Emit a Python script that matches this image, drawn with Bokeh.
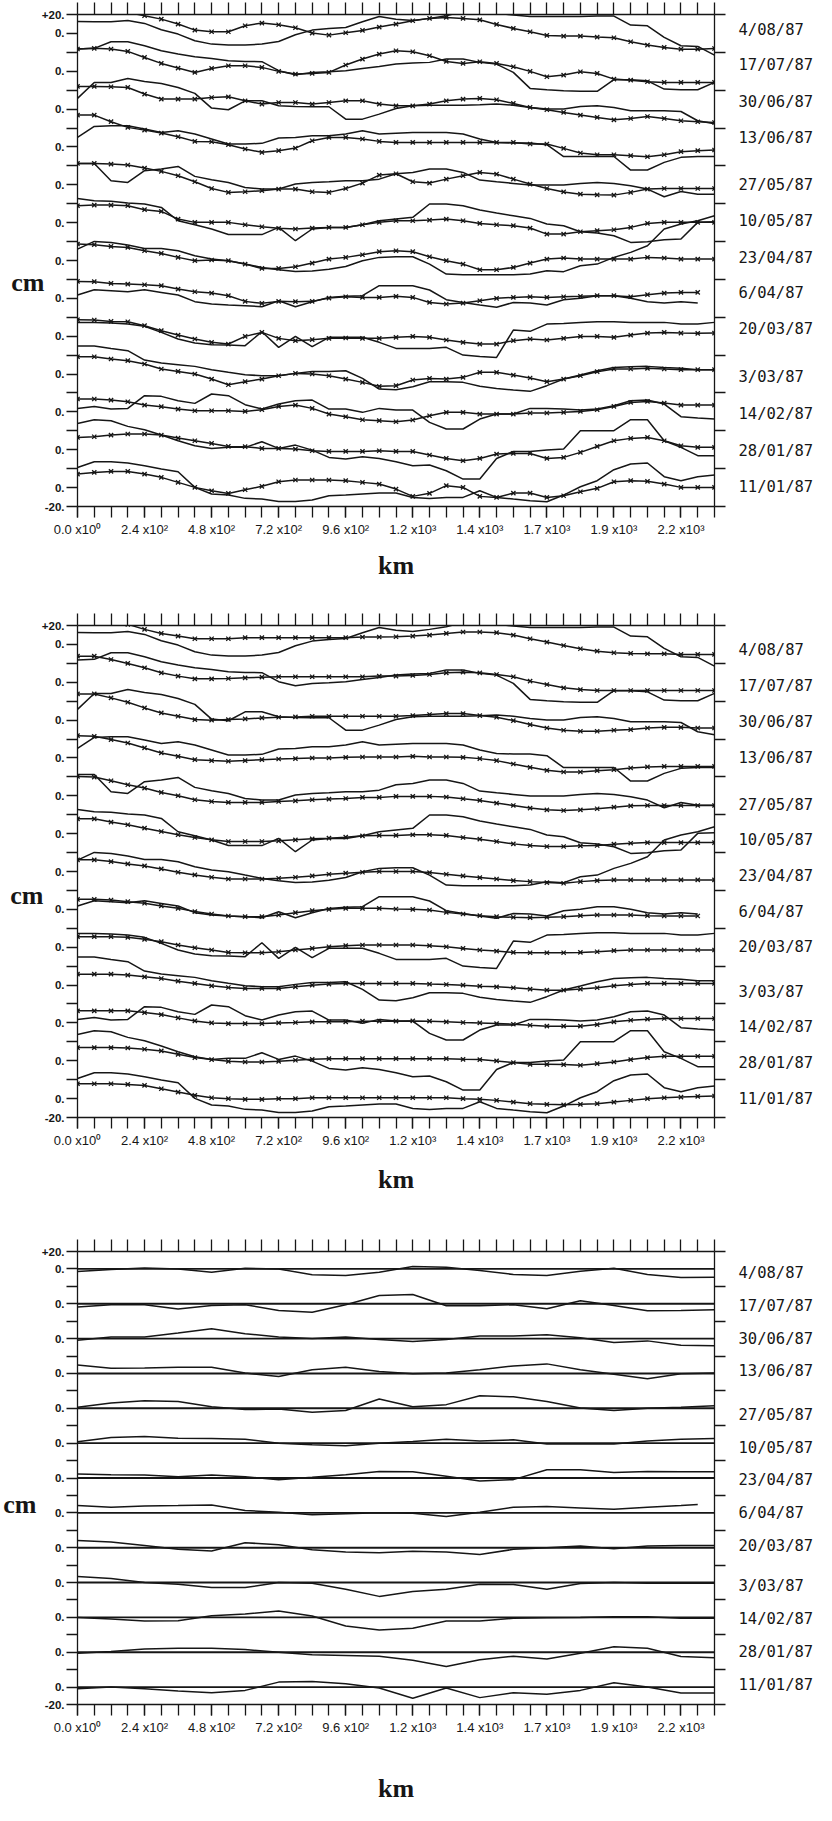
from bokeh.plotting import figure
from bokeh.models import Range1d, LinearAxis, FixedTicker, ColumnDataSource
from bokeh.layouts import column
from bokeh.embed import file_html
from bokeh.resources import INLINE

# ---------------- data ----------------
DATES = ["4/08/87", "17/07/87", "30/06/87", "13/06/87", "27/05/87", "10/05/87",
         "23/04/87", "6/04/87", "20/03/87", "3/03/87", "14/02/87", "28/01/87", "11/01/87"]

X_KM = list(range(0, 2281, 60))          # along-track distance, km (60 km sampling)
X_RES = list(range(0, 2281, 120))        # residual curves, 120 km sampling
X_RES_SHORT = list(range(0, 2161, 120)) + [2220]

X_TICK_LABELS = {0: "0.0 x10\u2070", 240: "2.4 x10\u00b2", 480: "4.8 x10\u00b2", 720: "7.2 x10\u00b2",
                 960: "9.6 x10\u00b2", 1200: "1.2 x10\u00b3", 1440: "1.4 x10\u00b3", 1680: "1.7 x10\u00b3",
                 1920: "1.9 x10\u00b3", 2160: "2.2 x10\u00b3"}

ROW_STEP_CM = 40

# observed sea-level anomaly (cm), one list per date (solid lines, panels 1 and 2)
obs_0408 = [12.7, 12.3, 12.3, 13.7, 10.6, 3.9, -0.7, -7.8, -11.3, -12.3, -12.3, -11.3, -8.5, -1.4, 3.5, 5.3, 6.3, 12.3, 17.8, 15.0, 13.7, 15.9, 18.7, 23.3, 22.9, 21.5, 19.4, 17.8, 17.8, 17.8, 18.0, 18.3, 18.3, 8.8, 8.1, -4.2, -13.0, -13.7, -22.9]
obs_1707 = [23.5, 24.2, 31.2, 31.2, 27.0, 21.7, 18.2, 15.4, 13.6, 11.1, 10.4, 10.1, 0.6, -3.7, -1.2, -0.5, 0.6, 3.0, 5.1, 7.6, 8.7, 9.4, 12.9, 12.9, 9.4, 7.6, -1.2, -18.1, -19.5, -20.5, -21.2, -21.2, -8.9, -8.9, -10.1, -18.8, -19.5, -19.5, -11.8]
obs_3006 = [11.3, 28.2, 28.2, 32.4, 29.2, 27.1, 22.9, 16.6, 1.1, -0.7, 8.8, 8.8, 3.5, 2.8, 2.5, 2.5, -10.6, -10.6, -5.3, 0.7, 3.5, 4.2, 4.2, 4.2, 4.6, 5.3, 4.2, 1.8, 0.0, 0.0, 2.8, 3.5, 1.8, -1.8, -1.8, -1.8, -2.5, -12.3, -15.5]
obs_1306 = [10.1, 21.7, 22.4, 22.4, 18.9, 15.4, 17.1, 13.6, 8.4, 3.1, 3.1, 3.8, 9.4, 10.1, 11.9, 11.9, 13.6, 17.1, 13.6, 14.5, 15.4, 15.4, 15.4, 13.6, 8.4, 4.8, 4.1, 4.1, 2.4, -10.1, -10.1, -10.1, -10.1, -24.4, -24.4, -16.3, -11.0, -10.1, -10.1]
obs_2705 = [22.6, 22.6, 4.3, 2.5, 14.9, 16.6, 19.4, 8.9, 5.3, 2.5, -2.8, -4.5, -4.5, 0.8, 2.5, 3.2, 4.3, 4.3, 6.0, 11.7, 13.1, 16.6, 16.6, 13.1, 5.0, 3.2, 1.5, -0.3, -0.3, -0.3, 1.5, 2.5, 1.5, -1.0, -4.5, -12.6, -7.0, -9.9, -9.9]
obs_1005 = [25.6, 23.2, 22.5, 20.7, 19.7, 16.1, 2.0, -2.2, -6.7, -12.6, -12.6, -12.6, -5.0, -19.1, -6.7, -5.0, -5.0, -2.2, 2.0, 3.8, 5.6, 19.7, 19.7, 17.9, 13.3, 10.1, 7.3, 4.5, -1.5, -3.2, -9.6, -11.0, -13.8, -20.9, -20.2, -18.0, -17.3, 0.3, 1.0]
obs_2304 = [12.0, 20.2, 19.1, 16.3, 12.8, 12.8, 10.3, 5.0, 1.5, -0.2, -3.8, -7.3, -9.9, -11.7, -11.0, -9.3, -6.4, -0.2, 3.3, 4.0, 4.0, -3.8, -14.3, -15.0, -15.0, -15.0, -15.0, -14.3, -10.8, -11.8, -5.5, -3.8, 3.3, 8.6, 15.6, 33.2, 38.5, 42.0, 47.3]
obs_0604 = [3.5, 9.1, 8.1, 7.0, 9.1, 6.3, 3.5, -3.5, -6.0, -7.0, -7.8, -8.8, -2.5, -8.8, -3.5, 1.0, 2.1, 2.8, 13.4, 13.4, 13.4, 8.8, -1.4, -4.3, -7.0, -9.5, -4.3, -5.0, -7.0, -1.4, 0.0, 2.8, 2.8, 0.0, -3.5, -5.0, -3.5, -5.0]
obs_2003 = [14.6, 14.6, 13.9, 12.8, 10.4, 4.0, -3.0, -7.2, -9.0, -9.4, -10.0, 4.7, -11.8, -0.2, -11.1, -1.2, -1.2, -1.2, -6.5, -12.9, -12.9, -12.9, -11.8, -20.0, -21.4, -22.4, 6.5, 5.1, 12.8, 13.5, 14.6, 15.3, 15.3, 14.6, 14.6, 14.6, 12.8, 12.8, 14.6]
obs_0303 = [29.6, 29.6, 27.1, 24.7, 14.8, 11.6, 9.9, 8.1, 4.6, 1.8, -0.7, -1.8, -1.8, 0.7, 2.8, 2.8, 3.5, -4.6, -15.9, -16.6, -13.4, -8.1, -8.1, -8.8, -13.0, -15.2, -16.9, -18.3, -12.3, -5.3, -1.1, 3.5, 7.0, 7.8, 8.1, 7.0, 6.0, 4.6, 4.6]
obs_1402 = [3.7, 5.8, 3.0, 3.7, 17.1, 16.4, 11.8, 9.0, 18.9, 17.1, 7.6, 3.0, 8.3, 11.8, 12.5, 3.0, 3.0, -0.5, 3.7, 1.9, 1.9, -11.1, -18.1, -18.1, -7.6, -2.3, -2.3, 3.7, 3.7, 3.0, 1.9, 3.0, 6.5, 11.8, 12.5, 8.3, -5.1, -6.5, -7.6]
obs_2801 = [27.8, 31.7, 30.7, 24.7, 21.1, 15.5, 9.5, 4.2, 1.4, 2.5, 2.5, 8.5, 1.4, 4.9, -0.4, -8.1, -9.9, -7.4, -9.2, -12.7, -16.9, -16.2, -22.2, -31.0, -31.0, -9.2, -1.8, -1.8, -0.4, 0.7, 20.1, 20.1, 20.1, 31.7, 31.7, 9.5, 2.5, -6.3, -6.3]
obs_1101 = [21.3, 27.3, 27.3, 25.9, 23.1, 19.6, 16.8, 0.2, -6.8, -7.9, -11.4, -12.1, -14.6, -14.6, -13.2, -8.6, -7.9, -6.8, -5.8, -5.8, -10.4, -11.5, -10.4, -10.4, -3.4, -10.4, -12.2, -13.9, -15.0, -7.9, 0.9, 7.3, 18.9, 24.9, 26.0, 11.5, 7.3, 11.5, 13.2]

# model curves of the first panel (lines with x markers)
mod1_0408 = [25.0, 24.7, 23.3, 22.2, 18.7, 15.1, 9.9, 3.5, 1.8, 1.8, 8.1, 10.9, 9.2, 6.0, 0.4, -1.8, 0.7, 3.2, 6.7, 9.9, 13.4, 15.9, 16.9, 15.9, 14.4, 9.5, 5.3, 1.8, -2.1, -2.8, -2.8, -3.9, -4.6, -8.8, -12.3, -14.8, -16.6, -16.6, -15.9]
mod1_1707 = [23.5, 24.2, 23.5, 21.0, 14.6, 8.3, 3.4, -1.2, 3.0, 5.8, 5.8, 4.1, -0.1, -3.0, -2.3, -1.2, 6.6, 12.9, 18.2, 21.7, 20.6, 16.4, 10.4, 8.3, 10.1, 8.3, 4.8, -0.1, -5.8, -4.0, -0.5, -2.3, -8.3, -9.4, -11.1, -11.8, -11.8, -11.8, -11.8]
mod1_3006 = [24.0, 24.0, 23.6, 22.9, 15.9, 10.6, 10.6, 10.6, 12.3, 13.0, 8.8, 5.3, 7.0, 7.0, 5.3, 7.0, 8.8, 8.8, 5.3, 3.5, 3.5, 5.3, 8.8, 10.6, 11.3, 9.9, 6.0, 1.8, -0.7, -3.5, -6.3, -8.8, -11.3, -9.9, -7.8, -9.9, -12.3, -13.4, -14.1]
mod1_1306 = [33.7, 33.7, 26.7, 20.7, 17.8, 14.7, 10.8, 5.9, 5.5, 2.4, -2.2, -5.7, -3.9, -1.2, 6.6, 10.1, 10.1, 8.4, 5.9, 4.8, 4.8, 4.8, 4.8, 4.8, 4.8, 4.8, 4.8, 3.1, 3.1, -1.5, -6.4, -8.2, -8.2, -9.2, -10.3, -8.2, -5.0, -3.9, -3.2]
mod1_2705 = [22.6, 22.6, 21.9, 20.9, 17.7, 14.2, 9.6, 3.2, -3.9, -8.0, -7.3, -6.2, -4.5, -4.5, -7.3, -8.0, -3.9, 1.8, 10.3, 11.7, 3.2, 1.8, 6.0, 9.6, 13.1, 11.3, 6.0, 0.8, -3.9, -7.5, -9.9, -10.6, -10.9, -8.0, -4.5, -3.9, -3.9, -3.9, -3.9]
mod1_1005 = [17.9, 18.6, 18.6, 17.9, 13.7, 11.9, 3.8, 0.3, 0.3, 0.3, -2.2, -4.3, -6.0, -6.7, -5.7, -5.0, -5.0, -2.2, 0.3, 2.0, 2.0, 2.7, 3.8, 2.0, -0.8, -2.2, -3.2, -5.7, -12.1, -12.1, -9.6, -8.5, -7.5, -5.0, -0.8, 0.3, 0.3, 0.3, 0.3]
mod1_2304 = [17.4, 16.7, 14.9, 13.8, 10.3, 7.5, 3.3, -0.2, 0.5, -0.2, -3.8, -8.4, -8.4, -6.6, -2.7, 1.5, 3.3, 6.1, 9.3, 10.3, 9.3, 4.0, -0.2, -3.8, -9.8, -9.8, -7.3, -2.7, 1.5, 2.6, 1.5, 1.5, 1.5, 1.5, 3.3, 2.6, 1.5, 1.5, 1.5]
mod1_0604 = [17.9, 17.6, 15.8, 15.1, 14.4, 13.4, 9.8, 7.0, 5.6, 2.8, -3.2, -5.3, -3.2, -3.5, -3.2, 0.3, 1.7, 1.0, 1.0, 2.1, 1.0, -4.3, -6.0, -5.0, -2.5, 0.0, 1.0, 1.7, 1.0, 1.7, 2.1, 2.8, 2.8, 1.7, 3.9, 5.6, 6.3, 6.3]
mod1_2003 = [17.4, 17.1, 15.6, 15.3, 11.1, 5.8, 1.2, -3.0, -6.5, -8.3, -0.2, 4.0, -2.3, -4.7, -3.7, -2.3, -1.9, -2.3, -2.3, -1.2, -0.2, -1.2, -4.0, -6.5, -8.3, -8.3, -4.7, -3.0, -4.0, -2.3, -0.2, -0.2, -1.2, 1.2, 3.3, 4.0, 3.3, 3.0, 3.3]
mod1_0303 = [18.3, 18.3, 15.9, 14.1, 10.6, 5.3, 2.8, 0.0, -5.3, -11.3, -8.1, -5.3, -1.8, 0.7, 0.0, -1.8, -5.3, -8.8, -13.0, -12.3, -6.3, -4.6, -5.3, -3.5, 1.8, 1.8, -1.1, -4.2, -8.1, -5.3, -1.8, 2.5, 5.3, 5.3, 6.0, 5.3, 4.6, 4.6, 4.6]
mod1_1402 = [13.6, 13.6, 12.5, 10.7, 7.2, 5.5, 3.0, 1.2, 1.2, 1.2, 0.5, 2.3, 5.8, 7.2, 3.7, -2.3, -5.1, -8.3, -9.3, -10.4, -8.6, -4.1, -0.5, -0.5, -2.3, -2.3, -2.3, -1.2, -1.2, -0.5, 0.5, 2.3, 5.8, 10.0, 11.1, 9.3, 7.2, 7.2, 7.2]
mod1_2801 = [13.0, 13.7, 15.5, 16.6, 16.6, 15.5, 12.3, 9.5, 6.7, 3.5, 3.2, 1.4, 1.4, 0.7, -1.1, -1.8, -1.8, -1.8, -1.1, -1.8, -1.8, -5.6, -9.2, -11.6, -9.2, -4.6, -3.9, -3.9, -9.2, -8.1, -2.8, 3.5, 9.5, 12.0, 13.0, 9.5, 4.2, 2.5, 2.5]
mod1_1101 = [14.3, 16.0, 17.1, 17.1, 14.3, 10.8, 5.5, 0.2, -3.4, -6.2, -2.3, 1.3, 6.2, 8.0, 8.0, 8.0, 7.3, 5.5, 3.7, -1.6, -9.3, -6.1, 2.0, 0.2, -9.3, -10.4, -5.8, -5.8, -10.4, -8.6, -4.4, -0.8, 6.2, 7.3, 6.6, 3.7, 0.2, 0.2, 0.2]

# model curves of the second panel (lines with x markers)
mod2_0408 = [27.5, 27.5, 24.7, 21.2, 15.9, 11.6, 8.8, 6.0, 6.0, 6.0, 7.1, 7.1, 7.1, 7.1, 7.1, 7.1, 7.1, 7.8, 7.8, 8.1, 8.8, 9.9, 11.6, 13.1, 13.1, 12.4, 9.9, 6.0, 2.5, -1.1, -4.6, -7.1, -8.8, -9.5, -9.9, -9.9, -10.6, -10.6, -10.6]
mod2_1707 = [27.6, 27.6, 24.1, 19.9, 15.3, 10.0, 6.5, 3.6, 3.6, 4.0, 4.7, 5.4, 5.8, 5.8, 5.8, 5.8, 5.8, 5.8, 6.5, 6.5, 7.2, 8.2, 10.0, 10.7, 10.0, 8.2, 5.8, 1.2, -2.4, -5.9, -7.7, -8.7, -8.7, -8.7, -8.7, -8.7, -8.7, -8.7, -8.7]
mod2_3006 = [27.7, 27.7, 23.5, 18.9, 12.9, 7.6, 4.1, 0.6, -0.1, 0.6, 1.3, 2.3, 3.0, 3.4, 4.1, 4.1, 4.1, 4.1, 4.1, 4.1, 4.8, 5.9, 6.9, 6.9, 4.8, 3.0, -0.5, -4.7, -8.3, -10.7, -11.8, -11.8, -10.7, -10.0, -8.3, -7.6, -7.6, -8.3, -8.3]
mod2_1306 = [23.6, 22.9, 19.4, 15.8, 10.6, 5.3, 1.7, -1.8, -2.8, -3.5, -2.8, -1.8, -1.1, -0.7, 0.0, 0.0, 0.7, 1.0, 1.0, 1.0, 1.7, 1.0, 1.0, 0.7, -0.7, -2.8, -6.4, -9.9, -13.1, -14.8, -14.8, -13.4, -12.4, -10.6, -9.5, -8.9, -8.9, -8.9, -8.9]
mod2_2705 = [20.5, 19.8, 15.9, 11.7, 8.2, 3.6, 0.1, -4.2, -6.0, -7.0, -7.0, -7.0, -6.0, -5.3, -4.2, -3.5, -2.8, -1.7, -1.7, -0.6, -0.6, -0.6, -1.3, -3.1, -4.9, -7.7, -10.2, -13.0, -14.8, -15.5, -14.8, -13.7, -12.0, -10.6, -10.2, -10.2, -10.2, -10.2, -10.2]
mod2_1005 = [15.7, 15.7, 12.2, 9.4, 5.8, 2.3, -1.2, -4.1, -6.5, -8.3, -8.3, -8.3, -7.6, -6.5, -5.5, -4.8, -3.7, -2.3, -1.9, -1.9, -1.2, -1.2, -1.9, -4.1, -5.8, -8.3, -10.8, -12.5, -13.6, -13.6, -12.9, -12.5, -11.1, -10.1, -9.4, -9.4, -9.4, -9.4, -9.4]
mod2_2304 = [12.3, 12.3, 10.5, 8.0, 5.9, 2.7, -0.8, -3.6, -6.1, -7.9, -7.9, -7.9, -7.1, -6.1, -4.7, -2.9, -1.8, -0.8, 0.0, 0.0, 0.0, -1.1, -2.9, -4.7, -6.4, -7.9, -9.6, -10.7, -11.7, -12.4, -10.7, -9.6, -8.9, -8.9, -8.9, -8.9, -8.9, -8.9, -8.9]
mod2_0604 = [10.6, 10.6, 9.9, 8.1, 6.4, 3.6, 1.1, -2.4, -4.9, -7.0, -7.7, -7.7, -6.0, -3.5, -1.4, 0.0, 1.1, 1.1, 1.1, 0.4, 0.0, -0.7, -3.2, -4.9, -6.7, -7.7, -8.4, -8.8, -8.4, -7.7, -6.7, -6.0, -6.0, -6.0, -6.7, -7.0, -7.0, -7.0]
mod2_2003 = [11.1, 11.1, 11.1, 10.4, 8.3, 5.8, 2.3, -0.6, -3.0, -5.5, -5.9, -5.9, -4.8, -3.0, -1.3, 0.5, 1.6, 2.3, 2.3, 2.3, 2.3, 1.6, 0.5, -1.3, -3.0, -4.1, -5.5, -5.9, -5.9, -5.9, -5.5, -4.8, -3.7, -3.0, -3.0, -3.0, -3.0, -3.0, -3.0]
mod2_0303 = [11.5, 11.5, 11.5, 10.5, 8.7, 6.9, 4.1, 1.7, -0.8, -2.6, -3.6, -3.6, -3.6, -1.9, -0.1, 1.0, 1.7, 1.7, 1.7, 1.7, 1.7, 1.0, 0.6, -0.1, -1.2, -1.9, -2.9, -4.3, -5.4, -5.4, -4.3, -2.9, -0.8, 0.6, 1.7, 1.7, 1.7, 1.7, 1.7]
mod2_1402 = [12.7, 12.7, 12.7, 12.7, 10.9, 8.8, 5.3, 2.1, 0.0, -0.7, -0.7, -0.7, 0.0, 0.4, 1.1, 1.1, 1.1, 1.8, 1.8, 1.8, 2.1, 1.8, 1.1, 0.4, 0.0, -0.7, -1.4, -2.5, -3.5, -3.5, -3.5, -1.8, 1.1, 2.8, 3.9, 4.6, 4.6, 4.6, 4.6]
mod2_2801 = [13.9, 13.9, 13.9, 13.5, 12.1, 10.4, 6.8, 3.3, 1.2, -0.6, -1.3, -1.3, -0.6, 0.5, 1.5, 2.2, 2.2, 2.2, 2.2, 2.2, 2.2, 2.2, 2.2, 1.5, 1.2, -0.2, -2.0, -3.8, -3.8, -4.1, -4.8, -3.1, -1.3, 1.2, 3.3, 4.7, 4.7, 4.7, 4.7]
mod2_1101 = [15.7, 15.7, 15.7, 15.0, 13.9, 10.4, 6.9, 3.4, 0.9, -0.1, -0.8, -0.8, -0.1, -0.1, 0.9, 0.9, 0.9, 0.9, 0.9, 0.9, 0.9, 0.9, 0.9, -0.1, -0.8, -1.9, -3.7, -5.4, -6.1, -6.6, -6.1, -5.4, -3.7, -1.9, -0.1, 0.9, 1.6, 2.3, 2.7]

# residual curves of the third panel (cm, 120 km sampling)
res_0408 = [-3.0, -0.8, 1.1, 0.0, -3.8, 0.8, 0.0, -6.8, -7.6, -3.8, 2.8, 1.9, -1.9, -6.4, -7.6, -2.6, 0.8, -6.4, -9.8, -9.5]
res_1707 = [-3.8, -1.1, -1.1, -6.0, -1.9, -1.1, -7.6, -9.8, -1.1, 9.5, 10.6, -2.3, -2.3, -1.1, -5.7, 3.4, -1.9, -8.0, -7.6, -6.8]
res_3006 = [-1.9, 1.9, 1.9, 6.4, 11.3, 5.7, 1.9, 0.0, 1.9, -1.1, -3.2, -1.1, 3.0, 3.0, 4.5, 1.1, -4.5, -2.6, -7.6, -8.3]
res_1306 = [9.8, 6.0, 6.4, 7.2, 7.2, 0.4, -3.4, 4.2, 7.2, 2.3, -0.2, 0.4, 4.2, 8.7, 11.0, 4.2, -0.8, -6.0, -0.4, 0.4]
res_2705 = [1.1, 6.0, 8.7, 7.9, 1.9, -1.5, -0.8, -4.5, -2.6, 10.6, 1.9, 4.2, 14.4, 13.2, 7.9, 0.4, -2.6, 0.0, 1.1, 3.0]
res_1005 = [1.5, 6.4, 7.6, 5.7, 5.3, 4.5, 0.0, -1.9, -3.0, 0.0, 1.9, 4.5, 2.6, 3.8, -1.1, -1.1, -1.1, 2.6, 4.5, 5.3]
res_2304 = [4.5, 3.8, 3.4, 1.5, 3.4, 1.5, -1.9, 0.8, 3.8, 7.6, 7.2, 1.9, -3.4, -1.9, 9.5, 9.5, 6.4, 7.6, 7.2, 7.2]
res_0604 = [8.3, 6.4, 7.9, 8.3, 9.1, 2.6, 0.8, -2.3, -1.1, 0.0, -0.6, -4.2, 0.8, 6.4, 7.2, 5.7, 4.2, 6.4, 8.3, 9.5]
res_2003 = [8.3, 6.4, 2.6, -1.9, -3.8, 5.7, 3.4, -2.3, -4.9, -5.7, -4.2, -4.9, -7.9, -1.9, 0.0, 1.9, -1.1, 1.9, 2.6, 2.6]
res_0303 = [6.8, 4.5, 0.0, -1.9, -5.7, -5.7, 0.0, -0.8, -7.6, -15.9, -10.2, -7.6, -1.9, -2.3, -7.6, -1.1, 0.0, -0.8, -0.8, -0.8]
res_1402 = [0.0, -1.9, -4.2, -3.8, 1.9, 3.8, 7.2, 1.5, -9.8, -14.4, -12.5, -4.2, -4.2, -1.1, -0.4, 0.0, 0.8, 0.8, -1.1, -1.1]
res_2801 = [-1.1, 0.8, 3.8, 4.5, 4.5, 3.0, 0.0, -3.0, -3.8, -4.5, -9.1, -16.3, -8.7, -4.5, -7.9, -1.1, 6.4, 4.5, -4.9, -6.4]
res_1101 = [-1.9, 0.0, -1.9, -4.5, -6.4, -3.8, 5.7, 6.4, 3.8, -1.1, -12.8, -1.1, -12.1, -6.4, -8.3, -3.8, 4.9, 0.0, -6.8, -6.8]

OBS = [obs_0408, obs_1707, obs_3006, obs_1306, obs_2705, obs_1005, obs_2304,
       obs_0604, obs_2003, obs_0303, obs_1402, obs_2801, obs_1101]
MOD1 = [mod1_0408, mod1_1707, mod1_3006, mod1_1306, mod1_2705, mod1_1005, mod1_2304,
        mod1_0604, mod1_2003, mod1_0303, mod1_1402, mod1_2801, mod1_1101]
MOD2 = [mod2_0408, mod2_1707, mod2_3006, mod2_1306, mod2_2705, mod2_1005, mod2_2304,
        mod2_0604, mod2_2003, mod2_0303, mod2_1402, mod2_2801, mod2_1101]
RES = [res_0408, res_1707, res_3006, res_1306, res_2705, res_1005, res_2304,
       res_0604, res_2003, res_0303, res_1402, res_2801, res_1101]

# ---------------- layout / style ----------------
N = len(DATES)
OFFSETS = [(N - 1 - i) * ROW_STEP_CM for i in range(N)]
Y_LO, Y_HI = -20, (N - 1) * ROW_STEP_CM + 20
FIG_W = 816
FRAME_W = 642
INK = "#161616"
LW = 1.5

# small vertical nudges (pixels, up) of the pasted date labels
NUDGE = [
    [3.5, 6, 7, 9, 0, 2, 2.6, 5.6, 7.5, -3.4, -2, -1, 0.7],
    [-5.8, -3.8, -1.6, 0, -9, -6.5, -5, -2.2, 0, -6.5, -4.3, -2.5, 0],
    [-3.8, -1.8, 0, 2, -6.3, -4.5, -2.5, 0, 2, -3.4, -1.7, 0, 1.7],
]

left_labels = {}
for t in range(Y_LO, Y_HI + 1, 20):
    left_labels[t] = ""
for o in OFFSETS:
    left_labels[o] = "0."
left_labels[Y_HI] = "+20."
left_labels[Y_LO] = "-20."


def style_axis(ax):
    ax.axis_line_color = INK
    ax.major_tick_line_color = INK
    ax.minor_tick_line_color = INK
    ax.axis_line_width = 1.3
    ax.major_tick_line_width = 1.3
    ax.minor_tick_line_width = 1.3
    ax.major_tick_in = 0
    ax.minor_tick_in = 0


def make_panel(idx, frame_left, top, frame_h, bottom, km_standoff, cm_y_px, cm_standoff):
    height = top + frame_h + bottom
    p = figure(width=FIG_W, height=height, output_backend="svg", toolbar_location=None,
               x_range=Range1d(0, X_KM[-1]), y_range=Range1d(Y_LO, Y_HI),
               x_axis_location=None, y_axis_location=None,
               min_border_left=frame_left - 8, min_border_right=FIG_W - (frame_left - 8) - FRAME_W,
               min_border_top=top, min_border_bottom=bottom)
    p.grid.grid_line_color = None
    p.outline_line_color = None
    p.background_fill_color = "white"
    p.border_fill_color = "white"

    cmpx = (Y_HI - Y_LO) / frame_h

    # left value axis: "+20.", "0." per row, "-20."
    la = LinearAxis(ticker=FixedTicker(ticks=list(range(Y_LO, Y_HI + 1, 20))),
                    major_label_overrides=left_labels)
    style_axis(la)
    la.major_tick_out = 11
    la.major_label_standoff = 2
    la.major_label_text_font = "Liberation Sans"
    la.major_label_text_font_style = "bold"
    la.major_label_text_font_size = "11.5px"
    la.major_label_text_color = INK
    p.add_layout(la, "left")

    # unit label "cm", as the single label of an outer left axis
    cm_tick = round(Y_HI - cm_y_px * cmpx, 2)
    ca = LinearAxis(ticker=FixedTicker(ticks=[cm_tick]), major_label_overrides={cm_tick: "cm"})
    ca.axis_line_color = None
    ca.major_tick_line_color = None
    ca.major_tick_out = 0
    ca.major_tick_in = 0
    ca.major_label_standoff = cm_standoff
    ca.major_label_text_font = "Liberation Serif"
    ca.major_label_text_font_style = "bold"
    ca.major_label_text_font_size = "26px"
    ca.major_label_text_color = INK
    p.add_layout(ca, "left")

    # right axis: row-boundary ticks + date labels
    date_ticks = [round(OFFSETS[i] + NUDGE[idx][i] * cmpx, 2) for i in range(N)]
    ra = LinearAxis(ticker=FixedTicker(ticks=date_ticks,
                                       minor_ticks=list(range(Y_LO, Y_HI + 1, ROW_STEP_CM))),
                    major_label_overrides={t: d for t, d in zip(date_ticks, DATES)})
    style_axis(ra)
    ra.major_tick_out = 0
    ra.major_tick_line_color = None
    ra.minor_tick_out = 11
    ra.major_label_standoff = 13
    ra.major_label_text_font = "DejaVu Sans Mono"
    ra.major_label_text_font_size = "15.5px"
    ra.major_label_text_color = INK
    p.add_layout(ra, "right")

    # top axis: ticks only
    ta = LinearAxis(ticker=FixedTicker(ticks=[], minor_ticks=X_KM))
    style_axis(ta)
    ta.major_tick_out = 0
    ta.minor_tick_out = 12
    ta.major_label_standoff = 0
    p.add_layout(ta, "above")

    # bottom distance axis
    ba = LinearAxis(ticker=FixedTicker(ticks=list(X_TICK_LABELS.keys()), minor_ticks=X_KM),
                    major_label_overrides=X_TICK_LABELS, axis_label="km")
    style_axis(ba)
    ba.major_tick_out = 11
    ba.minor_tick_out = 11
    ba.major_label_standoff = 4
    ba.major_label_text_font = "Liberation Sans"
    ba.major_label_text_font_size = "13px"
    ba.major_label_text_color = INK
    ba.axis_label_text_font = "Liberation Serif"
    ba.axis_label_text_font_style = "bold"
    ba.axis_label_text_font_size = "26px"
    ba.axis_label_text_color = INK
    ba.axis_label_standoff = km_standoff
    p.add_layout(ba, "below")
    return p


def draw_obs_model(p, model):
    for i in range(N):
        off = OFFSETS[i]
        xo = X_KM[:len(OBS[i])]
        p.line(xo, [v + off for v in OBS[i]], line_width=LW, line_color=INK)
        xm = X_KM[:len(model[i])]
        src = ColumnDataSource(dict(x=xm, y=[v + off for v in model[i]]))
        p.line("x", "y", source=src, line_width=LW, line_color=INK)
        p.scatter("x", "y", source=src, marker="x", size=6, line_width=1.3, line_color=INK)


# cm_y_px: vertical position of "cm" measured from the top of the plotting frame
p1 = make_panel(0, 81, 14, 492, 86, 11, 268, -6)
draw_obs_model(p1, MOD1)

p2 = make_panel(1, 80, 33, 492, 90, 14, 270, -5)
draw_obs_model(p2, MOD2)

p3 = make_panel(2, 80, 44, 458, 96, 36, 256, 2)
for i in range(N):
    off = OFFSETS[i]
    xr = X_RES_SHORT if i == 7 else X_RES
    p3.line(xr, [v + off for v in RES[i]], line_width=LW, line_color=INK)
p3.segment(x0=[X_KM[0]] * N, x1=[X_KM[-1]] * N, y0=OFFSETS, y1=OFFSETS,
           line_width=1.9, line_color=INK)

layout = column(p1, p2, p3, spacing=0)
open("out.html", "w").write(file_html(layout, INLINE))
